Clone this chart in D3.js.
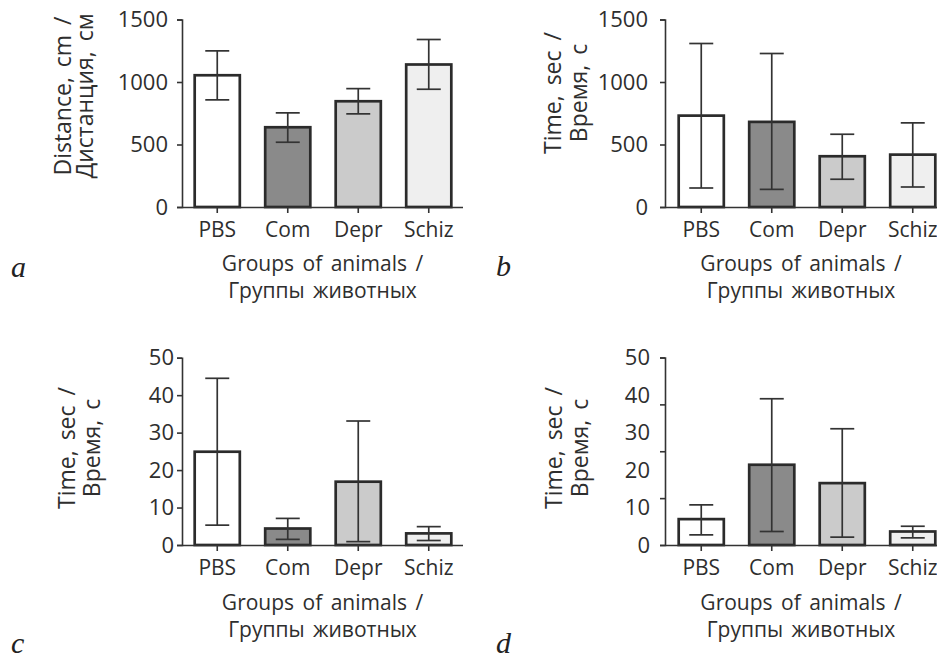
<!DOCTYPE html>
<html>
<head>
<meta charset="utf-8">
<script src="https://cdn.jsdelivr.net/npm/d3@7"></script>
<style>
  html, body { margin: 0; padding: 0; background: #fff; }
  svg { display: block; }
</style>
</head>
<body>
<svg id="chart" width="937" height="661"></svg>
<script>
// ---------- data ----------
const categories = ["PBS", "Com", "Depr", "Schiz"];
const barFills = ["#ffffff", "#8a8a8a", "#cbcbcb", "#efefef"];

const aMean = [1054, 638, 846, 1140];
const aLow  = [857, 518, 745, 942];
const aHigh = [1249, 753, 947, 1340];

const bMean = [731, 681, 406, 419];
const bLow  = [152, 141, 222, 160];
const bHigh = [1308, 1228, 582, 673];

const cMean = [24.9, 4.4, 16.9, 3.1];
const cLow  = [5.3, 1.5, 0.9, 1.2];
const cHigh = [44.5, 7.1, 33.1, 4.9];

const dMean = [6.9, 21.4, 16.5, 3.6];
const dLow  = [2.7, 3.6, 2.1, 1.9];
const dHigh = [10.7, 39.0, 31.0, 5.0];

const ticksThousands = [0, 500, 1000, 1500];
const ticksTens = [0, 10, 20, 30, 40, 50];
const dTickMarks = [0, 12.5, 25, 37.5, 50];

const yTitleDistance = ["Distance, cm /", "Дистанция, см"];
const yTitleTime = ["Time, sec /", "Время, с"];
const xTitle = ["Groups of animals /", "Группы животных"];
const panelLetters = ["a", "b", "c", "d"];

// ---------- drawing ----------
const FONT = "'Open Sans', 'Noto Sans', sans-serif";
const TXT = "#2e2e2e";
const svg = d3.select("#chart");

function panel(o) {
  const g = svg.append("g");
  const x = d3.scaleBand().domain(categories)
    .range([o.bandStart, o.bandStart + 282])
    .paddingInner(0.36).paddingOuter(0.18);
  const y = d3.scaleLinear().domain([0, o.max]).range([o.y0, o.y1]);

  // bars
  g.selectAll("rect.bar").data(categories).enter().append("rect")
    .attr("x", c => x(c))
    .attr("width", x.bandwidth())
    .attr("y", (c, i) => y(o.mean[i]))
    .attr("height", (c, i) => y(0) - y(o.mean[i]))
    .attr("fill", (c, i) => barFills[i])
    .attr("stroke", "#2b2b2b")
    .attr("stroke-width", 2.7);

  // error bars
  const cap = 12;
  const cxOf = c => x(c) + x.bandwidth() / 2;
  const eb = g.selectAll("g.err").data(categories).enter().append("g")
    .attr("stroke", "#333").attr("stroke-width", 1.7).attr("fill", "none");
  eb.append("line")
    .attr("x1", cxOf).attr("x2", cxOf)
    .attr("y1", (c, i) => y(o.low[i])).attr("y2", (c, i) => y(o.high[i]));
  eb.append("line")
    .attr("x1", c => cxOf(c) - cap).attr("x2", c => cxOf(c) + cap)
    .attr("y1", (c, i) => y(o.high[i])).attr("y2", (c, i) => y(o.high[i]));
  eb.append("line")
    .attr("x1", c => cxOf(c) - cap).attr("x2", c => cxOf(c) + cap)
    .attr("y1", (c, i) => y(o.low[i])).attr("y2", (c, i) => y(o.low[i]));

  // x axis
  const xa = g.append("g").attr("transform", `translate(0,${o.y0})`)
    .call(d3.axisBottom(x).tickSizeOuter(0).tickSize(6).tickPadding(9));
  xa.select(".domain").attr("d", `M${o.axisX},0.5H${o.xEnd}`);
  xa.selectAll("line").attr("stroke", "#333").attr("stroke-width", 1.6);
  xa.select(".domain").attr("stroke", "#333").attr("stroke-width", 1.6);
  xa.selectAll("text").style("font-family", FONT).attr("font-size", 21).attr("fill", TXT);

  // y axis
  const fmt = d3.format("d");
  const ya = g.append("g").attr("transform", `translate(${o.axisX},0)`);
  if (o.tickMarks) {
    ya.call(d3.axisLeft(y).tickValues(o.tickMarks).tickFormat("").tickSizeOuter(0).tickSize(5));
    const yl = g.append("g").attr("transform", `translate(${o.axisX},0)`)
      .call(d3.axisLeft(y).tickValues(o.ticks).tickFormat(fmt).tickSizeOuter(0).tickSize(0).tickPadding(o.pad + 5));
    yl.select(".domain").remove();
    yl.selectAll("line").remove();
    yl.selectAll("text").style("font-family", FONT).attr("font-size", 22).attr("fill", TXT);
  } else {
    ya.call(d3.axisLeft(y).tickValues(o.ticks).tickFormat(fmt).tickSizeOuter(0).tickSize(5).tickPadding(o.pad));
    ya.selectAll("text").style("font-family", FONT).attr("font-size", 22).attr("fill", TXT);
  }
  ya.selectAll("line").attr("stroke", "#333").attr("stroke-width", 1.6);
  ya.select(".domain").attr("stroke", "#333").attr("stroke-width", 1.6);

  // x title (one text, two lines)
  const cx = (o.axisX + o.xEnd) / 2;
  const xt = g.append("text").attr("text-anchor", "middle")
    .style("font-family", FONT).attr("font-size", 21).attr("fill", TXT)
    .attr("word-spacing", 3);
  xTitle.forEach((t, i) => {
    xt.append("tspan").attr("x", cx).attr("y", o.y0 + o.xTitleOff[i]).text(t);
  });

  // y title (one text, two lines)
  const yt = g.append("text")
    .attr("transform", `translate(${o.yTitleX[0]},${o.yTitleY}) rotate(-90)`)
    .attr("text-anchor", "middle").style("font-family", FONT)
    .attr("font-size", 23).attr("fill", TXT).attr("word-spacing", 4);
  o.yTitle.forEach((t, i) => {
    yt.append("tspan").attr("x", 0).attr("y", o.yTitleX[i] - o.yTitleX[0]).text(t);
  });

  // panel letter
  g.append("text").attr("x", o.letterX).attr("y", o.letterY)
    .style("font-family", "'Liberation Serif', 'DejaVu Serif', serif")
    .style("font-style", "italic").attr("font-size", 30).attr("fill", "#222")
    .text(o.letter);
}

panel({ mean: aMean, low: aLow, high: aHigh, max: 1500, ticks: ticksThousands,
  axisX: 182, xEnd: 463, bandStart: 182, y0: 207, y1: 19.5, pad: 9,
  yTitle: yTitleDistance, yTitleX: [71, 93], yTitleY: 96,
  xTitleOff: [63.5, 90.5], letter: panelLetters[0], letterX: 11, letterY: 277 });

panel({ mean: bMean, low: bLow, high: bHigh, max: 1500, ticks: ticksThousands,
  axisX: 665, xEnd: 937, bandStart: 666, y0: 207, y1: 19.5, pad: 12,
  yTitle: yTitleTime, yTitleX: [561, 587], yTitleY: 93,
  xTitleOff: [63.5, 90.5], letter: panelLetters[1], letterX: 496, letterY: 276 });

panel({ mean: cMean, low: cLow, high: cHigh, max: 50, ticks: ticksTens,
  axisX: 182, xEnd: 463, bandStart: 182, y0: 545, y1: 357.7, pad: 3,
  yTitle: yTitleTime, yTitleX: [75, 100], yTitleY: 448,
  xTitleOff: [65, 92], letter: panelLetters[2], letterX: 11, letterY: 653 });

panel({ mean: dMean, low: dLow, high: dHigh, max: 50, ticks: ticksTens, tickMarks: dTickMarks,
  axisX: 665, xEnd: 937, bandStart: 666, y0: 545, y1: 357.5, pad: 10,
  yTitle: yTitleTime, yTitleX: [562, 588], yTitleY: 448,
  xTitleOff: [65, 92], letter: panelLetters[3], letterX: 496, letterY: 653 });
</script>
</body>
</html>
